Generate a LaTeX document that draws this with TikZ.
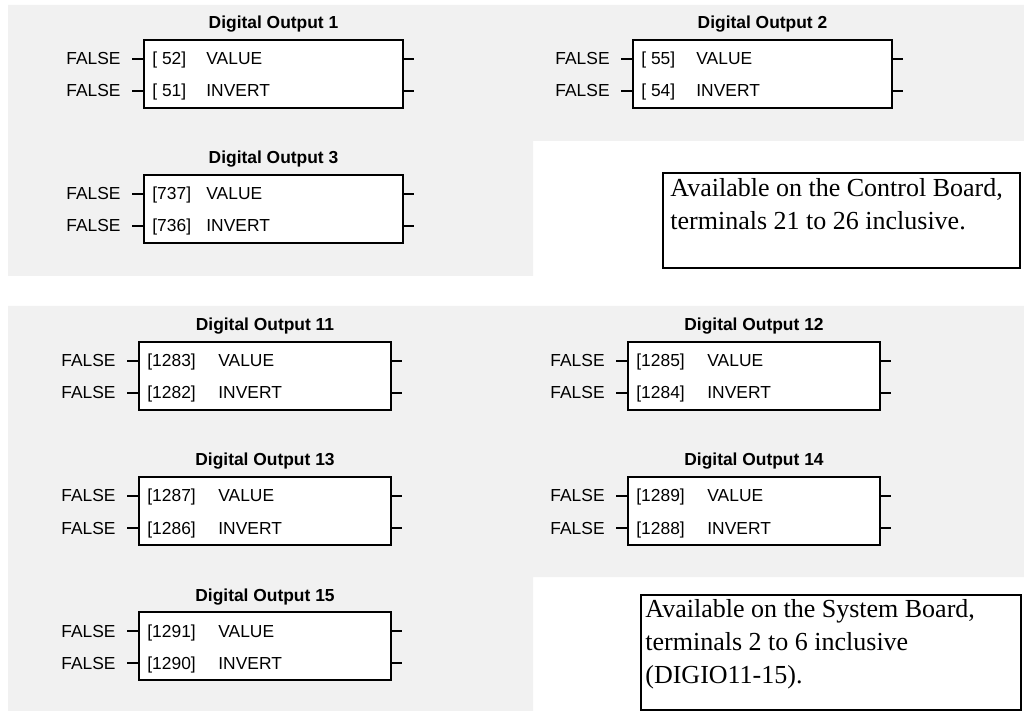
\documentclass[tikz,border=0pt]{standalone}
\usepackage{fontspec}
\setmainfont{Liberation Serif}
\setsansfont{Liberation Sans}
\definecolor{panelgray}{RGB}{241,241,241}

\begin{document}
\begin{tikzpicture}[x=0.5pt, y=-0.5pt,
    panel/.style ={fill=panelgray, draw=none},
    block/.style ={draw, line width=1pt, fill=white, inner sep=0pt, minimum height=34pt},
    title/.style ={font=\sffamily\bfseries\fontsize{8.7}{10}\selectfont, inner sep=0pt},
    label/.style ={font=\sffamily\fontsize{8.7}{10}\selectfont, inner sep=0pt},
    thinstub/.style ={line width=0.6pt},
    thickstub/.style ={line width=1.1pt},
    notebox/.style ={draw, line width=1pt, inner sep=0pt},
    notetext/.style ={font=\fontsize{13}{16.4}\selectfont, align=left, inner sep=0pt}]
   \useasboundingbox (0,0) rectangle (1024,711);

   % grey panels
   \fill[panel] (8,5) -- (1024,5) -- (1024,141) -- (533,141) -- (533,276) -- (8,276) -- cycle;
   \fill[panel] (8,306) -- (1024,306) -- (1024,577) -- (533,577) -- (533,711) -- (8,711) -- cycle;

   % function blocks
   \foreach \n/\x/\y/\w/\o/\pa/\pb in {
       1/143/39/259/63/{[ 52]}/{[ 51]},
       2/632/39/259/64/{[ 55]}/{[ 54]},
       3/143/174/259/63/{[737]}/{[736]},
       11/138/341/252/80/{[1283]}/{[1282]},
       12/627/341/252/80/{[1285]}/{[1284]},
       13/138/476/252/80/{[1287]}/{[1286]},
       14/627/476/252/80/{[1289]}/{[1288]},
       15/138/611/252/80/{[1291]}/{[1290]}} {
     \node[block, anchor=north west, minimum width=\w*0.5pt] (b\n) at (\x,\y) {};
     \node[title, anchor=base] (t\n) at ([shift={(0,-10)}]b\n.north) {Digital Output \n};
     \node[label, anchor=base west] (pv\n) at ([shift={(9,26)}]b\n.north west) {\pa};
     \node[label, anchor=base west] (pi\n) at ([shift={(9,58)}]b\n.north west) {\pb};
     \node[label, anchor=base west] (lv\n) at ([shift={(\o,26)}]b\n.north west) {VALUE};
     \node[label, anchor=base west] (li\n) at ([shift={(\o,58)}]b\n.north west) {INVERT};
     \node[label, anchor=base east] (fv\n) at ([shift={(-22,26)}]b\n.north west) {FALSE};
     \node[label, anchor=base east] (fi\n) at ([shift={(-22,58)}]b\n.north west) {FALSE};
     \coordinate (iv\n) at ([shift={(-11,20)}]b\n.north west);
     \coordinate (ii\n) at ([shift={(-11,52)}]b\n.north west);
     \coordinate (bv\n) at ([shift={(0,20)}]b\n.north west);
     \coordinate (bi\n) at ([shift={(0,52)}]b\n.north west);
     \coordinate (ev\n) at ([shift={(0,20)}]b\n.north east);
     \coordinate (ei\n) at ([shift={(0,52)}]b\n.north east);
     \coordinate (ov\n) at ([shift={(10,20)}]b\n.north east);
     \coordinate (oi\n) at ([shift={(10,52)}]b\n.north east);
     \draw[thinstub] (iv\n) -- (bv\n);
     \draw[thickstub] (ii\n) -- (bi\n);
     \draw[thickstub] (ev\n) -- (ov\n);
     \draw[thickstub] (ei\n) -- (oi\n);
   }

   % notes
   \node[notebox, anchor=north west, minimum width=178.5pt, minimum height=47.5pt] (n1) at (662,172) {};
   \node[notetext, anchor=north west] (n1t) at ([shift={(8,6)}]n1.north west)
     {Available on the Control Board,\\terminals 21 to 26 inclusive.};
   \node[notebox, anchor=north west, minimum width=190pt, minimum height=57.5pt] (n2) at (640,594) {};
   \node[notetext, anchor=north west] (n2t) at ([shift={(5,5)}]n2.north west)
     {Available on the System Board,\\terminals 2 to 6 inclusive\\(DIGIO11-15).};
\end{tikzpicture}
\end{document}
